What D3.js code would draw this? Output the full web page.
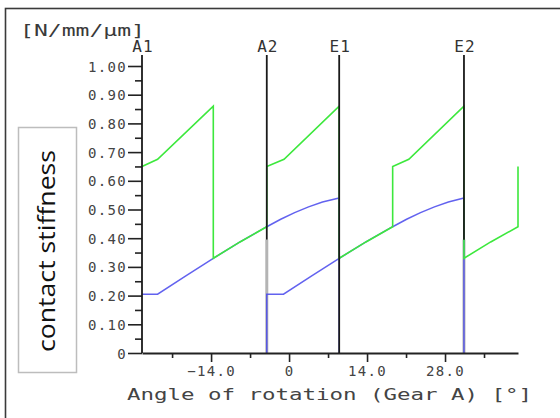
<!DOCTYPE html>
<html>
<head>
<meta charset="utf-8">
<script src="https://cdn.jsdelivr.net/npm/d3@7"></script>
<style>
body{margin:0;background:#fff;}
svg{display:block;}
</style>
</head>
<body>
<script>
// angle of rotation (deg) and stiffness (N/mm/um)
var markerNames = ['A1','A2','E1','E2'];
var markerAngles = [-26.4, -4.0, 9.0, 31.4];
var markerLow = [0, 0.395, 0, 0.395];
var grayAngles = [-4.0, 31.4];
var grayTop = 0.395;

var totalAngle = [-26.4, -23.6, -13.6, -13.6, -8.8, -4.0, -4.0, -0.9, 9.0, 9.0, 13.8, 18.6, 18.6, 21.5, 31.4, 31.4, 36.2, 41.1, 41.1];
var totalValue = [0.65, 0.675, 0.86, 0.33, 0.387, 0.44, 0.65, 0.675, 0.86, 0.33, 0.387, 0.44, 0.65, 0.675, 0.86, 0.33, 0.387, 0.44, 0.65];

var pair1Angle = [-26.4, -23.6, -18.6, -13.6, -8.8, -4.0, -1.5, 1.0, 3.5, 6.0, 9.0, 9.0];
var pair1Value = [0.205, 0.205, 0.268, 0.33, 0.387, 0.44, 0.466, 0.489, 0.509, 0.526, 0.54, 0];

var pair2Angle = [-4.0, -4.0, -1.0, 4.0, 9.0, 13.8, 18.6, 21.1, 23.6, 26.1, 28.6, 31.4, 31.4];
var pair2Value = [0, 0.205, 0.205, 0.268, 0.33, 0.387, 0.44, 0.466, 0.489, 0.509, 0.526, 0.54, 0];

var yTicks = [0, 0.1, 0.2, 0.3, 0.4, 0.5, 0.6, 0.7, 0.8, 0.9, 1.0];
var yMinor = [0.05, 0.15, 0.25, 0.35, 0.45, 0.55, 0.65, 0.75, 0.85, 0.95];
var xTicks = [-14, 0, 14, 28];
var xTickLabels = ['\u221214.0', '0', '14.0', '28.0'];
var xMinor = [-21, -7, 7, 21, 35];

var width = 560, height = 418;
var svg = d3.select('body').append('svg').attr('width', width).attr('height', height);

// frame of the screenshot
svg.append('rect').attr('x', 5.5).attr('y', 8.5).attr('width', 600).attr('height', 500)
  .attr('fill', 'none').attr('stroke', '#3a3a3a').attr('stroke-width', 1.6);

var x = d3.scaleLinear().domain([-26.4, 41.1]).range([142, 518]);
var y = d3.scaleLinear().domain([0, 1]).range([353, 66]);
var mono = 'DejaVu Sans Mono, monospace';

function zip(a, b){ return a.map(function(d, i){ return [d, b[i]]; }); }
var line = d3.line().x(function(d){ return x(d[0]); }).y(function(d){ return y(d[1]); });

// gray bars at A2 / E2
svg.selectAll('.gray').data(grayAngles).enter().append('line')
  .attr('x1', function(d){ return x(d); }).attr('x2', function(d){ return x(d); })
  .attr('y1', y(0)).attr('y2', y(grayTop))
  .attr('stroke', '#b4b4b4').attr('stroke-width', 3);

svg.append('path').attr('d', line(zip(pair1Angle, pair1Value)))
  .attr('fill', 'none').attr('stroke', '#4646ec').attr('stroke-width', 1.5).attr('stroke-opacity', 0.85);
svg.append('path').attr('d', line(zip(pair2Angle, pair2Value)))
  .attr('fill', 'none').attr('stroke', '#4646ec').attr('stroke-width', 1.5).attr('stroke-opacity', 0.85);
svg.append('path').attr('d', line(zip(totalAngle, totalValue)))
  .attr('fill', 'none').attr('stroke', '#3de83d').attr('stroke-width', 1.6);

// axes
var yAxis = d3.axisLeft(y).tickValues(yTicks).tickSize(14).tickSizeOuter(0)
  .tickFormat(function(d){ return d === 0 ? '0' : d3.format('.2f')(d); });
var gy = svg.append('g').attr('transform', 'translate(' + x(-26.4) + ',0)').call(yAxis);
gy.select('.domain').remove();
gy.selectAll('.tick line').attr('stroke', '#222').attr('stroke-width', 1.6);
gy.selectAll('.tick text').attr('x', -15).attr('dy', '0.36em')
  .attr('font-family', mono).attr('font-size', 14).attr('letter-spacing', 1.3).attr('fill', '#444');
var gym = svg.append('g').attr('transform', 'translate(' + x(-26.4) + ',0)')
  .call(d3.axisLeft(y).tickValues(yMinor).tickSize(7).tickSizeOuter(0).tickFormat(''));
gym.select('.domain').remove();
gym.selectAll('.tick line').attr('stroke', '#222').attr('stroke-width', 1.6);

var xAxis = d3.axisBottom(x).tickValues(xTicks).tickSize(9).tickSizeOuter(0)
  .tickFormat(function(d, i){ return xTickLabels[i]; });
var gx = svg.append('g').attr('transform', 'translate(0,' + y(0) + ')').call(xAxis);
gx.select('.domain').attr('stroke', '#222').attr('stroke-width', 1.8);
gx.selectAll('.tick line').attr('stroke', '#222').attr('stroke-width', 1.6);
gx.selectAll('.tick text').attr('y', 23).attr('dy', 0)
  .attr('font-family', mono).attr('font-size', 14).attr('letter-spacing', 1.3).attr('fill', '#444');
var gxm = svg.append('g').attr('transform', 'translate(0,' + y(0) + ')')
  .call(d3.axisBottom(x).tickValues(xMinor).tickSize(5).tickSizeOuter(0).tickFormat(''));
gxm.select('.domain').remove();
gxm.selectAll('.tick line').attr('stroke', '#222').attr('stroke-width', 1.6);

// mesh markers A1 A2 E1 E2
svg.selectAll('.marker').data(markerAngles).enter().append('line')
  .attr('x1', function(d){ return x(d); }).attr('x2', function(d){ return x(d); })
  .attr('y1', 55).attr('y2', function(d, i){ return y(markerLow[i]); })
  .attr('stroke', '#1a1a1a').attr('stroke-width', 1.8);
svg.selectAll('.mlabel').data(markerAngles).enter().append('text')
  .attr('x', function(d){ return x(d) + 1; }).attr('y', 52)
  .attr('text-anchor', 'middle').attr('font-family', mono).attr('font-size', 16)
  .attr('letter-spacing', 1).attr('fill', '#333')
  .text(function(d, i){ return markerNames[i]; });

// unit and axis title
svg.append('text').attr('x', 20).attr('y', 36).attr('font-family', mono).attr('font-size', 15)
  .attr('fill', '#3a3a3a').attr('textLength', 125).attr('lengthAdjust', 'spacingAndGlyphs')
  .text('[N/mm/\u00b5m]');
svg.append('text').attr('x', 127).attr('y', 400).attr('font-family', mono).attr('font-size', 16)
  .attr('fill', '#444').attr('textLength', 405).attr('lengthAdjust', 'spacingAndGlyphs')
  .text('Angle of rotation (Gear A) [\u00b0]');

// box with rotated label
svg.append('rect').attr('x', 18.5).attr('y', 127.5).attr('width', 58).attr('height', 245)
  .attr('fill', '#fff').attr('stroke', '#bdbdbd').attr('stroke-width', 1.5);
svg.append('text').attr('transform', 'translate(55,251) rotate(-90)')
  .attr('text-anchor', 'middle').attr('font-family', 'Open Sans, sans-serif').attr('font-size', 24)
  .attr('fill', '#111').attr('textLength', 202).attr('lengthAdjust', 'spacingAndGlyphs')
  .text('contact stiffness');
</script>
</body>
</html>
